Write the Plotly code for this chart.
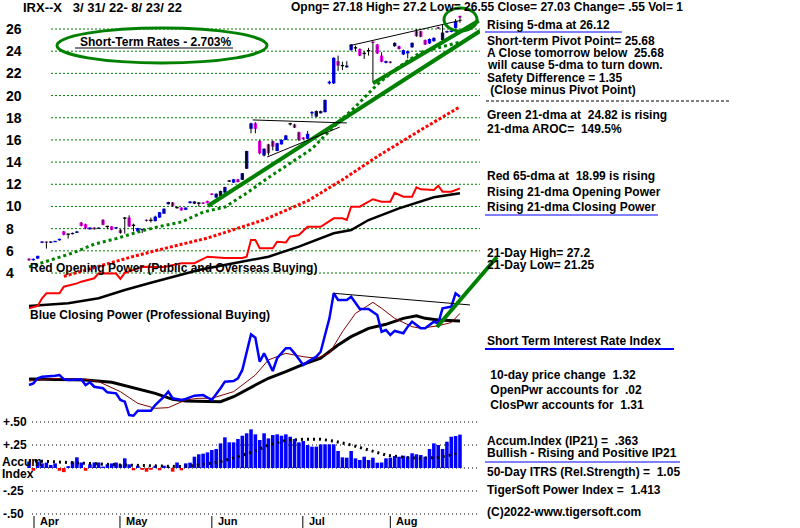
import plotly.graph_objects as go

W, H = 800, 528
def PX(x): return x / W
def PY(y): return 1 - y / H

FONT = "Liberation Sans, Arial, Helvetica, sans-serif"

# ---------------- data ----------------
opn = [5.30, 5.15, 5.30, 6.75, 6.80, 6.75, 6.80, 6.95, 7.75, 7.50,
       7.50, 7.62, 8.55, 8.40, 7.95, 8.10, 8.00, 8.80, 8.20, 8.20,
       8.02, 7.90, 8.95, 9.00, 8.30, 7.75, 7.90, 8.80, 8.75, 8.68,
       9.00, 9.35, 10.20, 10.37, 9.90, 9.90, 9.70, 10.30, 10.25, 10.30,
       10.35, 10.50, 11.15, 10.80, 10.95, 11.25, 12.30, 12.15, 12.45, 12.40,
       13.40, 17.00, 17.50, 15.90, 14.60, 15.60, 15.90, 15.00, 15.60, 16.00,
       17.45, 17.40, 16.70, 16.20, 16.10, 18.40, 18.10, 18.40, 18.50, 21.10,
       21.10, 23.10, 22.70, 22.55, 24.10, 24.30, 24.20, 23.80, 24.05, 24.85,
       24.60, 23.60, 22.95, 23.05, 24.45, 24.45, 23.70, 23.80, 24.35, 25.80,
       25.80, 25.00, 24.70, 24.90, 26.15, 25.00, 25.70, 25.75, 26.10, 27.18]
cls = [5.15, 5.28, 5.55, 6.82, 6.76, 6.82, 6.88, 7.08, 7.45, 7.50,
       7.62, 7.75, 8.25, 8.02, 8.10, 7.95, 8.08, 8.35, 8.20, 7.90,
       8.12, 7.60, 8.95, 8.20, 8.30, 8.05, 7.95, 8.70, 8.75, 9.08,
       9.48, 9.80, 10.40, 10.00, 9.90, 9.65, 9.90, 10.45, 10.45, 10.30,
       10.25, 10.30, 11.05, 11.15, 11.40, 11.75, 12.30, 12.45, 12.20, 13.00,
       15.00, 17.50, 17.00, 14.80, 15.20, 14.80, 15.40, 15.70, 16.00, 16.40,
       17.45, 17.10, 16.00, 16.10, 16.55, 18.50, 18.60, 18.60, 19.60, 21.25,
       23.40, 22.70, 22.70, 22.70, 24.60, 24.30, 23.60, 23.80, 24.05, 24.75,
       23.80, 23.05, 23.10, 22.95, 24.75, 24.20, 24.10, 24.00, 24.75, 25.35,
       25.30, 24.60, 25.10, 25.20, 26.05, 25.68, 25.80, 25.85, 26.70, 27.03]
hi = [5.32, 5.30, 5.55, 6.85, 6.85, 6.85, 6.90, 7.10, 7.80, 7.55,
      7.65, 7.80, 8.60, 8.45, 8.12, 8.12, 8.10, 8.85, 8.25, 8.22,
      8.15, 7.95, 9.05, 9.20, 8.45, 8.08, 7.98, 8.82, 9.00, 9.17,
      9.50, 9.82, 10.42, 10.40, 10.00, 9.92, 9.92, 10.48, 10.48, 10.40,
      10.38, 10.52, 11.18, 11.18, 11.42, 11.78, 12.35, 12.48, 12.48, 13.02,
      15.02, 17.55, 17.60, 16.00, 15.25, 15.65, 15.95, 15.75, 16.05, 16.45,
      17.55, 17.45, 16.75, 16.25, 16.80, 18.60, 18.65, 18.65, 19.65, 21.35,
      23.45, 23.60, 23.05, 23.10, 24.65, 24.50, 24.25, 24.00, 24.30, 24.90,
      24.65, 23.90, 23.15, 23.10, 24.80, 24.50, 24.15, 24.05, 24.80, 26.00,
      25.85, 25.05, 25.15, 25.25, 26.20, 26.40, 25.85, 25.90, 26.90, 27.20]
lo = [5.10, 5.12, 5.28, 6.70, 6.20, 6.70, 6.78, 6.92, 7.40, 7.10,
      7.48, 7.60, 8.20, 7.95, 7.90, 7.90, 7.98, 8.30, 7.95, 7.85,
      8.00, 7.55, 7.55, 8.15, 7.75, 7.72, 7.60, 8.65, 8.55, 8.65,
      8.98, 9.33, 10.18, 9.98, 9.80, 9.62, 9.68, 10.28, 10.22, 10.00,
      10.22, 10.28, 11.02, 10.78, 10.92, 11.22, 12.20, 12.12, 12.18, 12.38,
      13.38, 16.60, 16.60, 14.70, 14.50, 14.60, 15.05, 14.98, 15.58, 15.98,
      17.30, 17.08, 15.90, 16.00, 16.08, 18.10, 18.08, 18.38, 18.48, 21.00,
      21.05, 22.20, 22.30, 22.50, 24.05, 24.00, 23.55, 23.30, 23.60, 21.25,
      23.75, 23.00, 22.90, 22.90, 24.40, 24.15, 23.65, 23.35, 24.30, 25.30,
      25.25, 24.55, 24.65, 24.85, 26.00, 24.95, 25.65, 25.70, 26.05, 26.55]

# 21-dma (green dotted) and 65-dma (red dotted)
ma21_i = [0, 5, 10, 15, 20, 25, 30, 35, 40, 45, 50, 55, 60, 65, 70, 75, 80, 85, 90, 95, 99]
ma21_v = [4.55, 5.2, 5.8, 6.6, 7.1, 7.7, 8.2, 8.6, 9.5, 9.95, 11.2, 12.6, 13.9, 15.2, 17.2,
          19.0, 21.0, 22.6, 23.9, 24.4, 24.82]
ma65_i = [8, 16, 24, 32, 41, 54, 64, 72, 80, 90, 99]
ma65_v = [3.7, 4.6, 5.5, 6.3, 7.15, 8.8, 10.5, 12.4, 14.5, 16.9, 18.99]

# Opening Power (red) and its average (black)
op_i = [0, 2, 3, 4, 7, 8, 11, 12, 15, 16, 20, 21, 22, 26, 31, 35, 38, 41, 45, 49,
        50, 51, 52, 53, 56, 57, 59, 60, 62, 64, 67, 70, 72, 73, 74, 76, 77, 79, 81, 83,
        84, 86, 88, 89, 90, 93, 94, 95, 97, 99]
op_v = [1.3, 3.1, 9, 12.8, 12.8, 17.9, 20.5, 21.8, 24.4, 28.2, 28, 24, 28.5, 33.3, 33, 35.9, 36, 41, 40, 40,
        41, 53.8, 53.8, 47.5, 47.5, 52.5, 52, 56.4, 57.7, 64, 64, 70.5, 70.5, 69.2, 79.5, 79.5, 81.5, 85.2, 83.3, 83.3,
        90.2, 87.2, 87.2, 94.4, 92.8, 92.3, 95.6, 91, 91, 93.6]
opm_i = [0, 9, 16, 22, 28, 35, 39, 47, 55, 62, 70, 74, 78, 85, 93, 99]
opm_v = [3.1, 5.2, 9, 15.4, 21, 26.9, 30.8, 35.9, 41, 48.7, 59, 61.5, 69.2, 78.2, 86.7, 89.8]

# Closing Power (blue), its 21-dma (brown) and long average (black)
cp_i = [0, 1, 2, 3, 6, 7, 8, 9, 12, 13, 14, 15, 17, 18, 20, 21, 22, 23, 24, 25,
        28, 29, 31, 32, 33, 35, 36, 38, 40, 41, 42, 44, 45, 47, 48, 49, 50, 51, 52, 53,
        54, 56, 57, 59, 60, 61, 63, 64, 66, 67, 68, 69, 70, 71, 73, 74, 76, 78, 80, 81,
        82, 83, 84, 86, 87, 88, 90, 91, 93, 94, 95, 97, 98, 99]
cp_v = [26.9, 28.2, 32.1, 33.3, 34.1, 34.6, 31.5, 30.8, 31.3, 26.9, 29, 25.6, 24.4, 21.3, 20.5, 15.4, 14.1, 3.8, 3.3, 7.2,
        7.2, 11.5, 17.9, 21.8, 16.7, 15.4, 16.2, 18.7, 19.2, 17.2, 15.4, 24.4, 29.5, 30, 32.1, 38.5, 52.5, 65.9, 63.3, 44.8,
        51.3, 37.7, 47.5, 55.2, 55.2, 51.3, 42.3, 44.8, 48.7, 52.5, 65.4, 78, 97.5, 92.3, 92.3, 94.8, 85.4, 85.4, 80.8, 67.9,
        69.2, 65.4, 68.5, 66.7, 71.8, 75.6, 70.5, 70.5, 75.6, 74.4, 85.9, 87.2, 97.5, 94.8]
cpb_i = [0, 6, 13, 16, 21, 25, 29, 32, 36, 39, 42, 47, 52, 55, 59, 63, 66, 69, 72, 75, 79, 81, 84, 88, 90, 94, 97, 99]
cpb_v = [30, 32, 31.3, 29.5, 21.8, 12.8, 9, 9.5, 15.4, 16.7, 16.7, 21.8, 34.6, 46.2, 51.3, 48.7, 47.5, 51.3, 67.9, 82,
         90.5, 85.9, 78.2, 71.8, 70.5, 72.5, 75, 82]
cpm_i = [0, 6, 13, 19, 23, 29, 33, 36, 44, 47, 52, 55, 59, 63, 67, 71, 74, 78, 82, 86, 89, 91, 94, 99]
cpm_v = [31.5, 31.3, 30.8, 29, 25.6, 20.5, 15.9, 14.6, 14.1, 17.9, 26.9, 32.1, 37.2, 42.8, 47.5, 57.7, 64.1, 70.5,
         73.6, 78.2, 80.2, 78.2, 76.9, 76.2]

# Accumulation index (IP21) bars and its average
accum = [0.07, -0.03, 0.07, 0.05, 0.058, 0.033, 0.05, -0.03, -0.045, 0.02,
         0.07, 0.116, 0.06, -0.03, 0.04, 0.06, 0.06, 0.015, 0.04, 0.05,
         0.06, 0.04, 0.105, 0.04, -0.025, 0.025, -0.02, -0.04, -0.02, 0.025,
         -0.025, 0.025, 0.015, -0.04, 0.06, -0.025, 0.05, 0.058, 0.123, 0.149,
         0.156, 0.17, 0.196, 0.207, 0.268, 0.333, 0.279, 0.279, 0.315, 0.351,
         0.377, 0.42, 0.366, 0.304, 0.377, 0.322, 0.359, 0.366, 0.351, 0.366,
         0.34, 0.315, 0.279, 0.293, 0.25, 0.232, 0.232, 0.257, 0.257, 0.257,
         0.257, 0.185, 0.116, 0.112, 0.185, 0.105, 0.087, 0.123, 0.087, 0.112,
         0.058, 0.06, 0.105, 0.112, 0.13, 0.123, 0.134, 0.123, 0.16, 0.149,
         0.141, 0.123, 0.207, 0.268, 0.25, 0.207, 0.286, 0.34, 0.348, 0.363]
am_i = [0, 13, 21, 28, 35, 39, 44, 48, 52, 55, 59, 63, 67, 70, 74, 78, 82, 86, 90, 94, 97, 99]
am_v = [0.08, 0.05, 0.033, 0.025, 0.015, 0.033, 0.069, 0.123, 0.185, 0.25, 0.3, 0.312, 0.312, 0.293,
        0.25, 0.196, 0.141, 0.116, 0.105, 0.116, 0.141, 0.167]

price_ticks = [4, 6, 8, 10, 12, 14, 16, 18, 20, 22, 24, 26]
accum_ticks = [0.5, 0.25, 0.0, -0.25, -0.5]
accum_tick_text = ["+.50", "+.25", "", "-.25", "-.50"]
months = ["Apr", "May", "Jun", "Jul", "Aug"]
month_idx = [1.15, 20.9, 42.0, 62.9, 83.0]

idx = list(range(len(cls)))

# ---------------- figure ----------------
fig = go.Figure()

# candle wicks
wx, wy = [], []
for i, (h, l) in enumerate(zip(hi, lo)):
    wx += [i, i, None]
    wy += [l, h, None]
fig.add_trace(go.Scatter(x=wx, y=wy, mode="lines", line=dict(color="black", width=1),
                         yaxis="y", hoverinfo="skip"))

# candle bodies
b_base, b_h, b_col = [], [], []
for o, c in zip(opn, cls):
    base = min(o, c)
    hgt = abs(c - o)
    if hgt < 0.12:
        base = (o + c) / 2 - 0.06
        hgt = 0.12
    b_base.append(base)
    b_h.append(hgt)
    b_col.append("#0000FF" if c > o else ("#FF00FF" if c < o else "#000000"))
fig.add_trace(go.Bar(x=idx, y=b_h, base=b_base, marker=dict(color=b_col, line=dict(width=0)),
                     width=0.78, yaxis="y"))

# moving averages on price
fig.add_trace(go.Scatter(x=ma21_i, y=ma21_v, mode="lines",
                         line=dict(color="#008000", width=3, dash="3px,3px"), yaxis="y"))
fig.add_trace(go.Scatter(x=ma65_i, y=ma65_v, mode="lines",
                         line=dict(color="#FF0000", width=3, dash="3px,2px"), yaxis="y"))

# opening power
fig.add_trace(go.Scatter(x=opm_i, y=opm_v, mode="lines", line=dict(color="black", width=2.5), yaxis="y2"))
fig.add_trace(go.Scatter(x=op_i, y=op_v, mode="lines", line=dict(color="#FF0000", width=2), yaxis="y2"))

# closing power
fig.add_trace(go.Scatter(x=cpm_i, y=cpm_v, mode="lines", line=dict(color="black", width=3), yaxis="y3"))
fig.add_trace(go.Scatter(x=cpb_i, y=cpb_v, mode="lines", line=dict(color="#800000", width=1), yaxis="y3"))
fig.add_trace(go.Scatter(x=cp_i, y=cp_v, mode="lines", line=dict(color="#0000FF", width=2.5), yaxis="y3"))

# accumulation index
fig.add_trace(go.Bar(x=idx, y=accum, marker=dict(color=["#0000FF" if v >= 0 else "#FF0000" for v in accum],
                                                 line=dict(width=0)),
                     width=0.82, yaxis="y4"))
fig.add_trace(go.Scatter(x=am_i, y=am_v, mode="lines",
                         line=dict(color="black", width=3, dash="2px,4px"), yaxis="y4"))

shapes = []
# price grid
for v in price_ticks:
    shapes.append(dict(type="line", xref="paper", yref="y", x0=PX(51), x1=PX(480), y0=v, y1=v,
                       line=dict(color="#008000", width=1, dash="2px,2px"), layer="below"))
# accum grid
for v in accum_ticks:
    shapes.append(dict(type="line", xref="paper", yref="y4", x0=PX(32), x1=PX(480), y0=v, y1=v,
                       line=dict(color="black", width=1, dash="1px,3px"), layer="below"))
# month ticks
for m in month_idx:
    shapes.append(dict(type="line", xref="x", yref="paper", x0=m, x1=m, y0=PY(516), y1=PY(528),
                       line=dict(color="black", width=1)))

# trend lines (price)
shapes += [
    dict(type="line", xref="x", yref="y", x0=41.1, y0=10.04, x1=103.6, y1=25.82, line=dict(color="#008000", width=4)),
    dict(type="line", xref="x", yref="y", x0=79.0, y0=21.1, x1=103.3, y1=26.75, line=dict(color="#008000", width=4)),
    dict(type="line", xref="x", yref="y", x0=73.7, y0=24.5, x1=99.4, y1=26.8, line=dict(color="black", width=1)),
    dict(type="line", xref="x", yref="y", x0=51.4, y0=17.8, x1=73.0, y1=17.53, line=dict(color="black", width=1)),
    dict(type="line", xref="x", yref="y", x0=54.7, y0=14.46, x1=71.4, y1=17.16, line=dict(color="black", width=1)),
    # closing power trend lines
    dict(type="line", xref="x", yref="y3", x0=69.9, y0=97.5, x1=101.3, y1=88.5, line=dict(color="black", width=1)),
    dict(type="line", xref="paper", yref="paper", x0=PX(437), y0=PY(327), x1=PX(497), y1=PY(257),
         line=dict(color="#008000", width=4)),
    # ellipses
    dict(type="circle", xref="paper", yref="paper", x0=PX(57), x1=PX(267), y0=PY(63), y1=PY(28),
         line=dict(color="#008000", width=3)),
    dict(type="circle", xref="paper", yref="paper", x0=PX(444), x1=PX(477), y0=PY(31), y1=PY(8),
         line=dict(color="#008000", width=3)),
    # underline of the ellipse text
    dict(type="line", xref="paper", yref="paper", x0=PX(75), x1=PX(233), y0=PY(48), y1=PY(48),
         line=dict(color="black", width=1)),
    # right-side blue underlines
    dict(type="line", xref="paper", yref="paper", x0=PX(485), x1=PX(622), y0=PY(32), y1=PY(32),
         line=dict(color="#0000FF", width=1)),
    dict(type="line", xref="paper", yref="paper", x0=PX(485), x1=PX(658), y0=PY(215), y1=PY(215),
         line=dict(color="#0000FF", width=1)),
    dict(type="line", xref="paper", yref="paper", x0=PX(485), x1=PX(674), y0=PY(349), y1=PY(349),
         line=dict(color="#0000FF", width=2)),
    dict(type="line", xref="paper", yref="paper", x0=PX(485), x1=PX(680), y0=PY(462), y1=PY(462),
         line=dict(color="#0000FF", width=1)),
    dict(type="line", xref="paper", yref="paper", x0=PX(486), x1=PX(730), y0=PY(101), y1=PY(101),
         line=dict(color="black", width=1, dash="3px,2px")),
]

ann = []
def txt(x, y, s, size=12, color="black", anchor="left", bold=True):
    ann.append(dict(x=PX(x), y=PY(y), xref="paper", yref="paper", text=("<b>%s</b>" % s) if bold else s,
                    showarrow=False, xanchor=anchor, yanchor="middle", borderpad=0,
                    font=dict(family=FONT, size=size, color=color)))

# price axis labels
for v in price_ticks:
    ann.append(dict(x=PX(4), y=v, xref="paper", yref="y", text="<b>%d</b>" % v, showarrow=False,
                    xanchor="left", yanchor="middle", font=dict(family=FONT, size=14, color="black")))
# accum labels
for v, t in zip(accum_ticks, accum_tick_text):
    if t:
        ann.append(dict(x=PX(1), y=v, xref="paper", yref="y4", text="<b>%s</b>" % t, showarrow=False,
                        xanchor="left", yanchor="middle", font=dict(family=FONT, size=12, color="black")))
txt(1, 462, "Accum")
txt(1, 474, "Index")
# month labels
for m, t in zip(month_idx, months):
    ann.append(dict(x=m, y=PY(521), xref="x", yref="paper", text="<b>%s</b>" % t, showarrow=False,
                    xanchor="left", yanchor="middle", xshift=5, borderpad=0,
                    font=dict(family=FONT, size=11, color="black")))

txt(22, 7, "IRX--X   3/ 31/ 22- 8/ 23/ 22", size=13)
txt(290, 7, "Opng= 27.18 High= 27.2 Low= 26.55 Close= 27.03 Change= .55 Vol= 1")
txt(79, 42, "Short-Term Rates - 2.703%")
txt(29, 268, "Red Opening Power (Public and Overseas Buying)")
txt(29, 315, "Blue Closing Power (Professional Buying)")

side = [
    (25, "Rising 5-dma at 26.12"),
    (41, "Short-term Pivot Point= 25.68"),
    (53, "A Close tomorrow below  25.68"),
    (65, "will cause 5-dma to turn down."),
    (78, "Safety Difference = 1.35"),
    (90, " (Close minus Pivot Point)"),
    (115, "Green 21-dma at  24.82 is rising"),
    (129, "21-dma AROC=  149.5%"),
    (176, "Red 65-dma at  18.99 is rising"),
    (192, "Rising 21-dma Opening Power"),
    (207, "Rising 21-dma Closing Power"),
    (253, "21-Day High= 27.2"),
    (265, "21-Day Low= 21.25"),
    (341, "Short Term Interest Rate Index"),
    (375, " 10-day price change  1.32"),
    (390, " OpenPwr accounts for  .02"),
    (405, " ClosPwr accounts for  1.31"),
    (441, "Accum.Index (IP21) =  .363"),
    (453, "Bullish - Rising and Positive IP21"),
    (472, "50-Day ITRS (Rel.Strength) =  1.05"),
    (490, "TigerSoft Power Index =  1.413"),
    (512, "(C)2022-www.tigersoft.com"),
]
for y, s in side:
    txt(486, y, s)

fig.update_layout(
    width=W, height=H, margin=dict(l=0, r=0, t=0, b=0),
    paper_bgcolor="white", plot_bgcolor="white", showlegend=False, barmode="overlay",
    hovermode=False,
    xaxis=dict(domain=[0, 0.6], range=[-6.66, 103.6], visible=False, showgrid=False, zeroline=False),
    yaxis=dict(domain=[0, 1], range=[-18.99, 28.615], visible=False, showgrid=False, zeroline=False),
    yaxis2=dict(overlaying="y", range=[-167.69, 238.46], visible=False, showgrid=False, zeroline=False),
    yaxis3=dict(overlaying="y", range=[-83.08, 323.08], visible=False, showgrid=False, zeroline=False),
    yaxis4=dict(overlaying="y", range=[-0.6522, 5.087], visible=False, showgrid=False, zeroline=False),
    shapes=shapes, annotations=ann,
)

fig.write_html("out.html", config={"displayModeBar": False, "staticPlot": True},
               post_script="document.body.style.margin='0';document.body.style.overflow='hidden';")
